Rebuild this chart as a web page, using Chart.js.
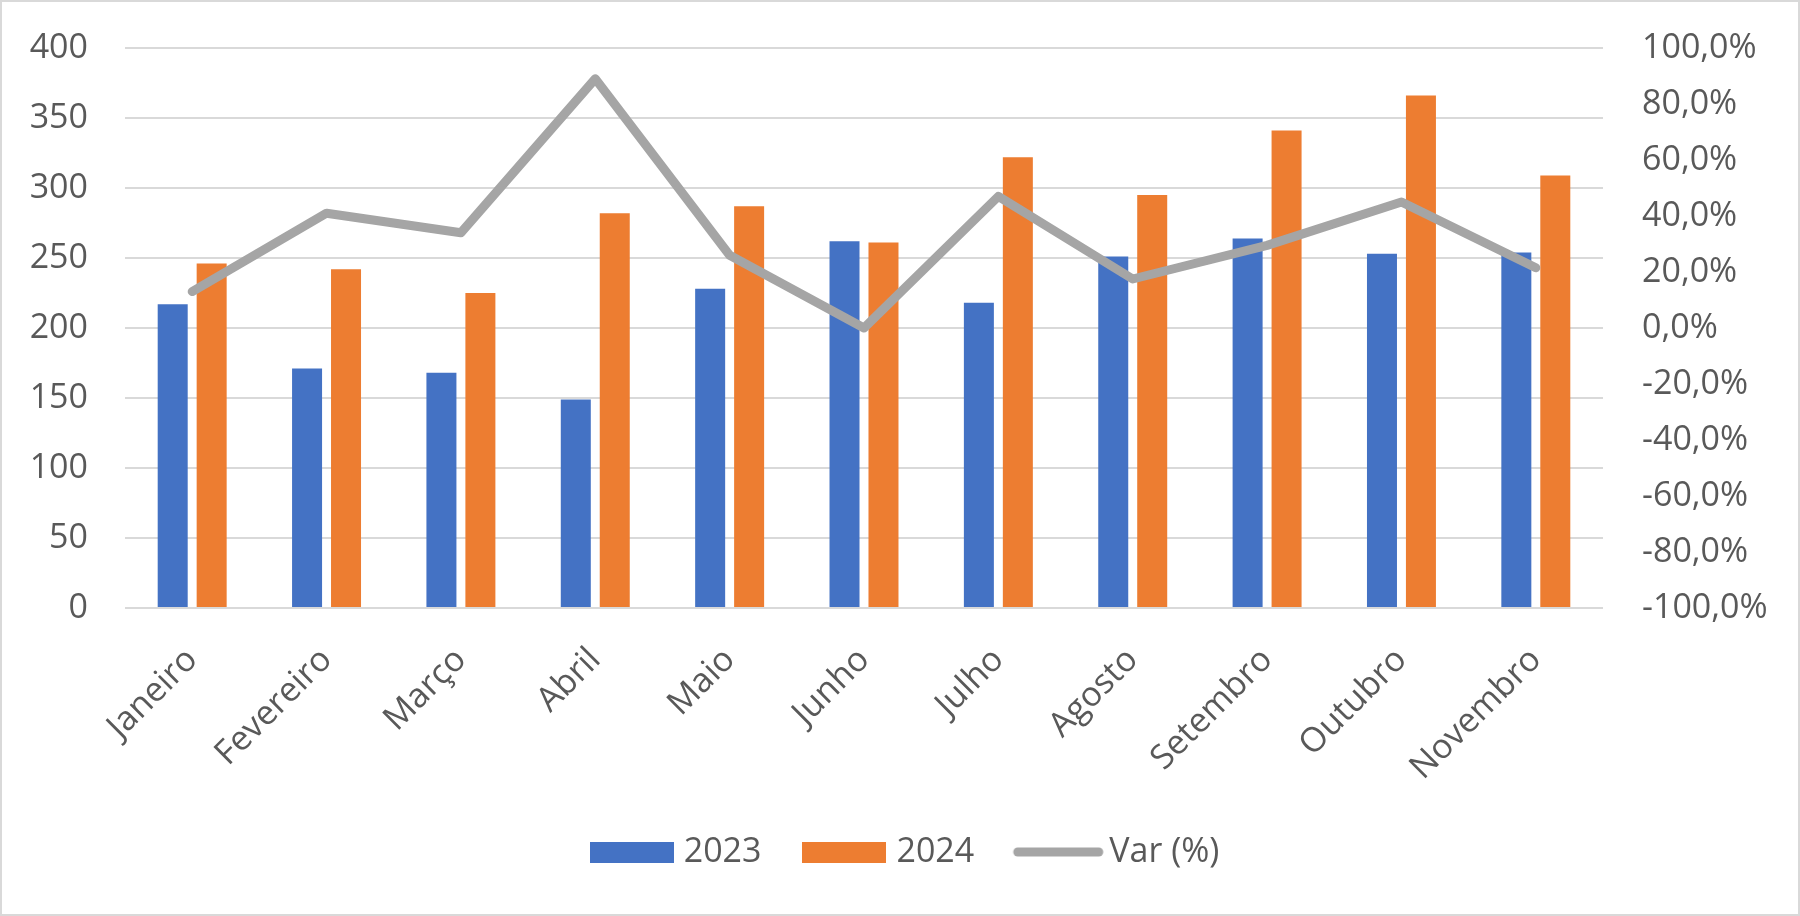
<!DOCTYPE html>
<html>
<head>
<meta charset="utf-8">
<script src="https://cdn.jsdelivr.net/npm/chart.js"></script>
<style>
    body { margin: 0; background: #fff; }
    #caixa {
        width: 1800px;
        height: 916px;
        box-sizing: border-box;
        border: 2px solid #d9d9d9;
        position: relative;
    }
</style>
</head>
<body>
<div id="caixa"><canvas id="grafico"></canvas></div>
<script>
// Dados
const meses = ['Janeiro', 'Fevereiro', 'Março', 'Abril', 'Maio', 'Junho', 'Julho', 'Agosto', 'Setembro', 'Outubro', 'Novembro'];
const valores2023 = [217, 171, 168, 149, 228, 262, 218, 251, 264, 253, 254];
const valores2024 = [246, 242, 225, 282, 287, 261, 322, 295, 341, 366, 309];
const variacao = [13, 41, 34, 89, 26, 0, 47, 17.5, 29.5, 45, 21.5];

const corAzul = '#4472C4';
const corLaranja = '#ED7D31';
const corCinza = '#A5A5A5';

// Ícones da legenda (retângulos e linha arredondada)
function iconeRetangulo(cor) {
    const c = document.createElement('canvas');
    c.width = 84;
    c.height = 21;
    const ctx = c.getContext('2d');
    ctx.fillStyle = cor;
    ctx.fillRect(0, 0, 84, 21);
    return c;
}

function iconeLinha(cor) {
    const c = document.createElement('canvas');
    c.width = 103;
    c.height = 10;
    const ctx = c.getContext('2d');
    ctx.strokeStyle = cor;
    ctx.lineWidth = 9;
    ctx.lineCap = 'round';
    ctx.beginPath();
    ctx.moveTo(12, 5);
    ctx.lineTo(93, 5);
    ctx.stroke();
    return c;
}

const iconesLegenda = [iconeRetangulo(corAzul), iconeRetangulo(corLaranja), iconeLinha(corCinza)];

// tira o espaço extra que o padding dos ticks cria em cima e embaixo do eixo
function semPaddingVertical(scale) {
    scale.paddingTop = 0;
    scale.paddingBottom = 0;
}

// desloca a legenda um pouco para a direita (o Chart.js conta o padding do último item)
const ajusteLegenda = {
    id: 'ajusteLegenda',
    afterLayout: function(chart) {
        if (chart.legend) {
            chart.legend.left += 8;
            chart.legend.right += 8;
        }
    }
};

Chart.defaults.font.family = "'Open Sans', sans-serif";
Chart.defaults.font.size = 34;
Chart.defaults.color = '#595959';

new Chart(document.getElementById('grafico'), {
    type: 'bar',
    data: {
        labels: meses,
        datasets: [
            {
                label: '2023',
                data: valores2023,
                backgroundColor: corAzul,
                yAxisID: 'y',
                order: 1,
                barPercentage: 0.77,
                categoryPercentage: 0.58
            },
            {
                label: '2024',
                data: valores2024,
                backgroundColor: corLaranja,
                yAxisID: 'y',
                order: 1,
                barPercentage: 0.77,
                categoryPercentage: 0.58
            },
            {
                type: 'line',
                label: 'Var (%)',
                data: variacao,
                borderColor: corCinza,
                backgroundColor: corCinza,
                borderWidth: 9,
                borderCapStyle: 'round',
                borderJoinStyle: 'round',
                pointRadius: 0,
                tension: 0,
                yAxisID: 'y1',
                order: 0
            }
        ]
    },
    options: {
        responsive: true,
        maintainAspectRatio: false,
        animation: false,
        layout: {
            padding: { top: 46, bottom: 35, left: 0, right: 0 }
        },
        plugins: {
            legend: {
                position: 'bottom',
                labels: {
                    usePointStyle: true,
                    pointStyleWidth: 70,
                    padding: 48,
                    color: '#595959',
                    sort: function(a, b) { return a.datasetIndex - b.datasetIndex; },
                    generateLabels: function(chart) {
                        const itens = Chart.defaults.plugins.legend.labels.generateLabels(chart);
                        itens.forEach(function(item) {
                            item.pointStyle = iconesLegenda[item.datasetIndex];
                        });
                        return itens;
                    }
                }
            },
            tooltip: { enabled: false }
        },
        scales: {
            x: {
                grid: { display: false },
                border: { display: false },
                ticks: {
                    minRotation: 45,
                    maxRotation: 45,
                    padding: 24
                },
                afterFit: function(scale) { scale.height = 179; }
            },
            y: {
                position: 'left',
                min: 0,
                max: 400,
                ticks: { stepSize: 50, padding: 37 },
                grid: { color: '#d9d9d9', lineWidth: 2, drawTicks: false },
                border: { display: false },
                afterFit: function(scale) {
                    scale.width = 123;
                    semPaddingVertical(scale);
                }
            },
            y1: {
                position: 'right',
                min: -100,
                max: 100,
                ticks: {
                    stepSize: 20,
                    padding: 39,
                    callback: function(v) { return v.toFixed(1).replace('.', ',') + '%'; }
                },
                grid: { drawOnChartArea: false, drawTicks: false },
                border: { display: false },
                afterFit: function(scale) {
                    scale.width = 195;
                    semPaddingVertical(scale);
                }
            }
        }
    },
    plugins: [ajusteLegenda]
});
</script>
</body>
</html>
